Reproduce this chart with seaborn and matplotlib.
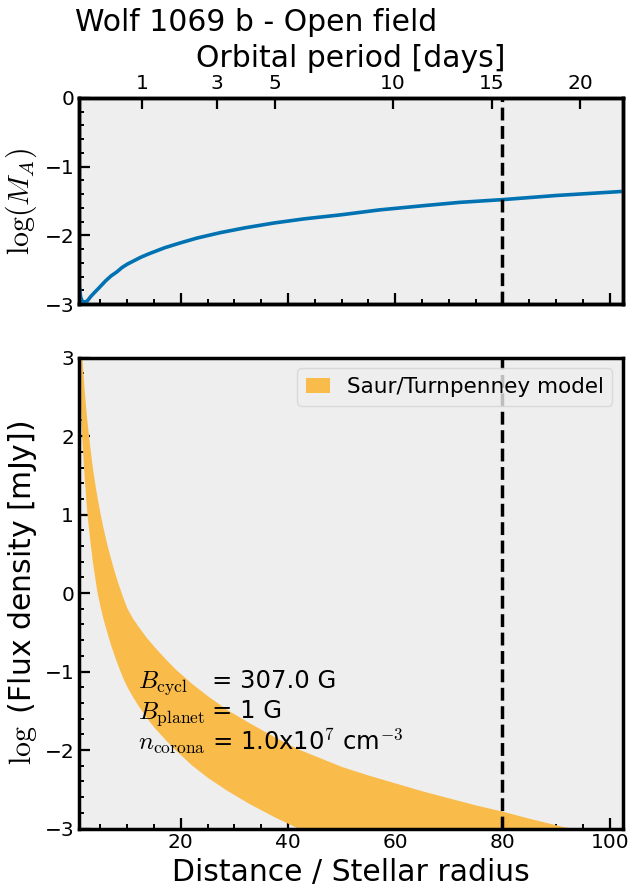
import matplotlib
matplotlib.use("Agg")
import matplotlib.pyplot as plt
from matplotlib.ticker import MultipleLocator, FixedLocator, NullLocator
import pandas as pd
import seaborn as sns

sns.set_theme(style="ticks", rc={
    "axes.edgecolor": "black",
    "text.color": "black",
    "axes.labelcolor": "black",
    "xtick.color": "black",
    "ytick.color": "black",
})
plt.rcParams["font.family"] = ["DejaVu Sans"]
plt.rcParams["mathtext.fontset"] = "cm"

# Alfvén Mach number of the stellar wind at the orbit (log10)
ma_distance = [1.0, 1.12, 1.3, 1.6, 2.0, 2.2, 2.6, 3.2, 3.8, 4.67, 6.0, 7.0,
               8.1, 9.0, 10.0, 11.0, 12.5, 14.0, 15.0, 17.0, 19.9, 23.0, 27.4,
               32.0, 37.4, 43.0, 50.0, 57.0, 65.0, 72.0, 80.0, 90.0, 102.5]
ma_log = [-2.70, -2.78, -2.90, -2.96, -2.97, -2.97, -2.95, -2.89, -2.84, -2.77,
          -2.66, -2.59, -2.53, -2.47, -2.42, -2.38, -2.32, -2.27, -2.24, -2.18,
          -2.11, -2.04, -1.96, -1.89, -1.82, -1.76, -1.70, -1.63, -1.57, -1.52,
          -1.48, -1.42, -1.36]

# Radio flux density band of the Saur/Turnpenney model (log10 mJy)
flux_distance = [1.0, 1.1, 1.25, 1.4, 1.55, 1.75, 2.0, 2.25, 2.5, 3.0, 3.5, 4.0,
                 4.4, 5.0, 5.5, 6.2, 6.9, 7.6, 8.3, 9.1, 10.0, 11.0, 12.0, 13.5,
                 15.0, 17.0, 19.0, 22.0, 25.0, 28.5, 32.7, 37.4, 42.0, 46.0,
                 50.0, 55.0, 60.0, 65.0, 70.0, 75.0, 80.0, 85.0, 91.0, 96.0,
                 102.5]
flux_upper = [3.75, 3.59, 3.37, 3.17, 3.00, 2.79, 2.56, 2.36, 2.18, 1.87, 1.60,
              1.37, 1.21, 0.99, 0.83, 0.62, 0.44, 0.27, 0.12, -0.04, -0.20,
              -0.32, -0.42, -0.56, -0.68, -0.83, -0.97, -1.15, -1.31, -1.48,
              -1.65, -1.83, -1.99, -2.10, -2.21, -2.32, -2.42, -2.52, -2.61,
              -2.70, -2.78, -2.87, -2.97, -3.04, -3.12]
flux_lower = [2.83, 2.64, 2.38, 2.16, 1.96, 1.71, 1.45, 1.21, 1.00, 0.68, 0.40,
              0.17, 0.00, -0.19, -0.33, -0.50, -0.66, -0.80, -0.93, -1.07,
              -1.20, -1.32, -1.43, -1.58, -1.71, -1.86, -2.00, -2.19, -2.35,
              -2.51, -2.68, -2.85, -3.00, -3.11, -3.21, -3.33, -3.44, -3.54,
              -3.63, -3.72, -3.80, -3.88, -3.96, -4.03, -4.11]

# Orbital period axis (days) and the distance of a 1-day orbit (stellar radii)
period_ticks = [1, 3, 5, 10, 15, 20]
distance_1day = 12.82
planet_distance = 80.0

x_range = (1.0, 102.5)

blue = "#0072b2"
orange = "#f9bb4a"
panel_bg = "#eeeeee"

ma_df = pd.DataFrame({"distance": ma_distance, "log_ma": ma_log})

fig = plt.figure(figsize=(6.34, 8.9), dpi=100)
ax1 = fig.add_axes([0.1246, 0.6584, 0.8581, 0.2315])
ax2 = fig.add_axes([0.1246, 0.0691, 0.8581, 0.5290])

tick_font = 14.5
label_font = 21.5

for ax in (ax1, ax2):
    ax.set_facecolor(panel_bg)
    for side in ("left", "right", "top", "bottom"):
        ax.spines[side].set_visible(True)
        ax.spines[side].set_linewidth(2.5)
        ax.spines[side].set_color("black")
    ax.set_xlim(*x_range)
    ax.xaxis.set_major_locator(MultipleLocator(20))
    ax.xaxis.set_minor_locator(MultipleLocator(5))
    ax.tick_params(which="major", direction="in", length=8, width=1.6,
                   labelsize=tick_font, top=False, right=False)
    ax.tick_params(which="minor", direction="in", length=3.5, width=1.4,
                   top=False, right=False)
    ax.axvline(planet_distance, color="black", ls="--", lw=2.5, zorder=4)

# Upper panel: Alfvén Mach number
sns.lineplot(data=ma_df, x="distance", y="log_ma", ax=ax1, color=blue, lw=2.6,
             zorder=3)
ax1.set_ylim(-3, 0)
ax1.yaxis.set_major_locator(MultipleLocator(1))
ax1.yaxis.set_minor_locator(MultipleLocator(0.2))
ax1.set_xlabel("")
ax1.tick_params(labelbottom=False)
ax1.set_ylabel(r"$\log(M_A)$", fontsize=label_font)

# Orbital period on the top axis (Kepler's third law: d ~ P^(2/3))
ax_top = ax1.twiny()
ax_top.set_xlim(*x_range)
period_pos = [distance_1day * p ** (2.0 / 3.0) for p in period_ticks]
ax_top.xaxis.set_major_locator(FixedLocator(period_pos))
ax_top.set_xticklabels([str(p) for p in period_ticks])
ax_top.xaxis.set_minor_locator(NullLocator())
ax_top.tick_params(axis="x", which="major", direction="in", length=8, width=1.6,
                   labelsize=tick_font, top=True, bottom=False)
for side in ("left", "right", "top", "bottom"):
    ax_top.spines[side].set_linewidth(2.5)
    ax_top.spines[side].set_color("black")
ax_top.set_xlabel("Orbital period [days]", fontsize=label_font, labelpad=5)

# Lower panel: radio flux density
ax2.fill_between(flux_distance, flux_lower, flux_upper, color=orange, lw=0,
                 label="Saur/Turnpenney model", zorder=2)
ax2.set_ylim(-3, 3)
ax2.yaxis.set_major_locator(MultipleLocator(1))
ax2.yaxis.set_minor_locator(MultipleLocator(0.2))
ax2.set_xlabel("Distance / Stellar radius", fontsize=label_font)
ax2.set_ylabel(r"$\log$ (Flux density [mJy])", fontsize=label_font)

leg = ax2.legend(loc="upper right", fontsize=15.5, handlelength=1.1,
                 handleheight=0.7, handletextpad=0.8, frameon=True,
                 facecolor=panel_bg, edgecolor="#d4d4d4", framealpha=0.8)
leg.set_zorder(5)

param_names = [r"$B_\mathrm{cycl}$", r"$B_\mathrm{planet}$", r"$n_\mathrm{corona}$"]
param_values = ["= 307.0 G", "= 1 G", r"= 1.0x10$^{7}$ cm$^{-3}$"]
param_rows = [0.298, 0.234, 0.168]
for name, value, yrow in zip(param_names, param_values, param_rows):
    ax2.text(0.1085, yrow, name, transform=ax2.transAxes, fontsize=18,
             va="baseline", ha="left", zorder=6)
    ax2.text(0.245, yrow, value, transform=ax2.transAxes, fontsize=17.5,
             va="baseline", ha="left", zorder=6)

fig.text(0.118, 0.965, "Wolf 1069 b - Open field", fontsize=label_font,
         ha="left", va="baseline")

fig.savefig("out.png", dpi=100)
